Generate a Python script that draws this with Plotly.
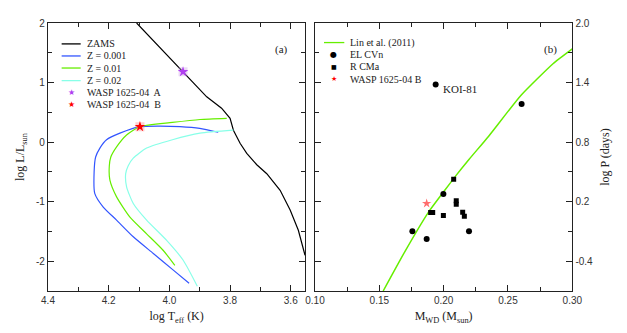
import plotly.graph_objects as go

# ── Panel (a): HR diagram ─────────────────────────────────────────────────────
zams_logt = [4.108, 4.05, 3.955, 3.877, 3.828, 3.80, 3.789, 3.767, 3.745, 3.712, 3.679, 3.635, 3.602, 3.575, 3.553]
zams_logl = [2.0, 1.69, 1.18, 0.76, 0.57, 0.40, 0.20, -0.02, -0.19, -0.38, -0.53, -0.81, -1.14, -1.48, -1.90]

z001_logt = [3.839, 3.90, 3.965, 4.03, 4.097, 4.163, 4.207, 4.229, 4.243, 4.248, 4.246, 4.218, 4.174, 4.119, 4.053, 3.987, 3.935]
z001_logl = [0.165, 0.23, 0.26, 0.27, 0.26, 0.15, 0.04, -0.10, -0.25, -0.50, -0.86, -1.09, -1.31, -1.59, -1.87, -2.15, -2.37]

z01_logt = [3.811, 3.899, 3.99, 4.097, 4.141, 4.174, 4.193, 4.198, 4.196, 4.174, 4.130, 4.075, 4.020, 3.982]
z01_logl = [0.40, 0.38, 0.33, 0.26, 0.12, -0.08, -0.25, -0.40, -0.64, -0.92, -1.26, -1.54, -1.82, -2.07]

z02_logt = [3.789, 3.899, 3.99, 4.075, 4.119, 4.136, 4.144, 4.141, 4.119, 4.075, 4.009, 3.955, 3.908]
z02_logl = [0.20, 0.15, 0.04, -0.10, -0.27, -0.40, -0.53, -0.75, -1.03, -1.31, -1.65, -1.98, -2.42]

star_a = (3.955, 1.18)
star_b = (4.097, 0.26)

# ── Panel (b): period vs WD mass ──────────────────────────────────────────────
lin_m = [0.153, 0.170, 0.188, 0.200, 0.210, 0.220, 0.235, 0.260, 0.285, 0.300]
lin_logp = [-0.70, -0.30, 0.09, 0.30, 0.47, 0.63, 0.86, 1.27, 1.59, 1.74]

elcvn_m = [0.1938, 0.2606, 0.1998, 0.1757, 0.1868, 0.2197]
elcvn_logp = [1.38, 1.185, 0.276, -0.098, -0.176, -0.098]

rcma_m = [0.2078, 0.2098, 0.2098, 0.1899, 0.1915, 0.1998, 0.2148, 0.2161]
rcma_logp = [0.427, 0.208, 0.175, 0.091, 0.091, 0.061, 0.094, 0.054]

wasp_b_m = [0.1868]
wasp_b_logp = [0.182]

lt_ticks = [4.4, 4.2, 4.0, 3.8, 3.6]
ll_ticks = [2, 1, 0, -1, -2]
m_ticks = [0.10, 0.15, 0.20, 0.25, 0.30]
p_ticks = [2.0, 1.4, 0.8, 0.2, -0.4]

SERIF = "Liberation Serif, Times New Roman, serif"
SANS = "Liberation Sans, Arial, sans-serif"
C_BLUE = "#3355ff"
C_GREEN = "#66ee00"
C_CYAN = "#88ffe8"
C_PURPLE = "#b040f0"

fig = go.Figure()

line_w = 1.2
smooth = dict(shape="spline", smoothing=0.6)
fig.add_trace(go.Scatter(x=zams_logt, y=zams_logl, mode="lines", line=dict(color="black", width=line_w), xaxis="x", yaxis="y"))
fig.add_trace(go.Scatter(x=z001_logt, y=z001_logl, mode="lines", line=dict(color=C_BLUE, width=line_w, **smooth), xaxis="x", yaxis="y"))
fig.add_trace(go.Scatter(x=z01_logt, y=z01_logl, mode="lines", line=dict(color=C_GREEN, width=line_w, **smooth), xaxis="x", yaxis="y"))
fig.add_trace(go.Scatter(x=z02_logt, y=z02_logl, mode="lines", line=dict(color=C_CYAN, width=line_w, **smooth), xaxis="x", yaxis="y"))

# halos + stars
fig.add_trace(go.Scatter(x=[star_a[0]], y=[star_a[1]], mode="markers",
                         marker=dict(symbol="square", size=9, color="rgba(200,150,230,0.35)", line=dict(width=0))))
fig.add_trace(go.Scatter(x=[star_b[0]], y=[star_b[1]], mode="markers",
                         marker=dict(symbol="square", size=9, color="rgba(255,120,120,0.35)", line=dict(width=0))))
fig.add_trace(go.Scatter(x=[star_a[0]], y=[star_a[1]], mode="markers",
                         marker=dict(symbol="star", size=8, color=C_PURPLE, line=dict(width=0))))
fig.add_trace(go.Scatter(x=[star_b[0]], y=[star_b[1]], mode="markers",
                         marker=dict(symbol="star", size=8, color="red", line=dict(width=0))))

# panel b
fig.add_trace(go.Scatter(x=lin_m, y=lin_logp, mode="lines", line=dict(color=C_GREEN, width=1.5, shape="spline", smoothing=0.5),
                         xaxis="x2", yaxis="y2"))
fig.add_trace(go.Scatter(x=elcvn_m, y=elcvn_logp, mode="markers", marker=dict(symbol="circle", size=6, color="black"),
                         xaxis="x2", yaxis="y2"))
fig.add_trace(go.Scatter(x=rcma_m, y=rcma_logp, mode="markers", marker=dict(symbol="square", size=5, color="black"),
                         xaxis="x2", yaxis="y2"))
fig.add_trace(go.Scatter(x=wasp_b_m, y=wasp_b_logp, mode="markers",
                         marker=dict(symbol="star", size=7, color="rgba(255,60,60,0.75)", line=dict(width=0)),
                         xaxis="x2", yaxis="y2"))

axis_common = dict(
    showline=True, linecolor="#222", linewidth=1.3, mirror="ticks",
    ticks="inside", ticklen=6, tickcolor="#222", tickwidth=1,
    showgrid=False, zeroline=False, automargin=False,
    tickfont=dict(family=SANS, size=10, color="#333"),
)

# the page body adds an 8px offset, so the layout is placed 8px up/left
fig.update_layout(
    width=627, height=333,
    margin=dict(l=0, r=0, t=15, b=50),
    plot_bgcolor="white", paper_bgcolor="white",
    showlegend=False,
    xaxis=dict(
        domain=[0.0638, 0.4742], range=[4.4, 3.552], anchor="y",
        tickvals=lt_ticks, ticktext=[f"{v:.1f}" for v in lt_ticks],
        minor=dict(dtick=0.1, tick0=4.4, ticks="inside", ticklen=4, tickcolor="#222"),
        title=dict(text="log T<sub>eff</sub> (K)", font=dict(family=SERIF, size=12, color="#222"), standoff=6),
        **axis_common,
    ),
    yaxis=dict(
        domain=[0, 1], range=[-2.5, 2], anchor="x",
        tickvals=ll_ticks, ticktext=[str(v) for v in ll_ticks],
        minor=dict(dtick=0.5, tick0=0, ticks="inside", ticklen=4, tickcolor="#222"),
        title=dict(text="log L/L<sub>sun</sub>", font=dict(family=SERIF, size=12, color="#222"), standoff=8),
        **axis_common,
    ),
    xaxis2=dict(
        domain=[0.4896, 0.900], range=[0.10, 0.30], anchor="y2",
        tickvals=m_ticks, ticktext=[f"{v:.2f}" for v in m_ticks],
        minor=dict(dtick=0.025, tick0=0.1, ticks="inside", ticklen=4, tickcolor="#222"),
        title=dict(text="M<sub>WD</sub> (M<sub>sun</sub>)", font=dict(family=SERIF, size=12, color="#222"), standoff=6),
        **axis_common,
    ),
    yaxis2=dict(
        domain=[0, 1], range=[-0.7, 2.0], anchor="x2", side="right",
        tickvals=p_ticks, ticktext=[f"{v:.1f}" if v >= 0 else f"-{abs(v):.1f}" for v in p_ticks],
        minor=dict(dtick=0.3, tick0=-0.4, ticks="inside", ticklen=4, tickcolor="#222"),
        title=dict(text="log P (days)", font=dict(family=SERIF, size=12, color="#222"), standoff=8),
        **axis_common,
    ),
)

# ── manual legends (compact row spacing like the original) ────────────────────
def legend_line(xref, yref, x0, x1, y, color):
    fig.add_shape(type="line", xref=xref, yref=yref, x0=x0, x1=x1, y0=y, y1=y,
                  line=dict(color=color, width=1.3))

def legend_text(xref, yref, x, y, text, color="#222", size=10, family=SERIF):
    fig.add_annotation(xref=xref, yref=yref, x=x, y=y, text=text, showarrow=False,
                       xanchor="left", yanchor="middle", font=dict(family=family, size=size, color=color))

def legend_sym(xref, yref, x, y, sym, color, size):
    fig.add_annotation(xref=xref, yref=yref, x=x, y=y, text=sym, showarrow=False,
                       xanchor="center", yanchor="middle", font=dict(family="DejaVu Sans", size=size, color=color))

left_rows = [0.922, 0.877, 0.832, 0.785, 0.741, 0.696]
left_labels = ["ZAMS", "Z = 0.001", "Z = 0.01", "Z = 0.02", "WASP 1625-04  A", "WASP 1625-04  B"]
left_colors = ["black", C_BLUE, C_GREEN, C_CYAN]
for i, lab in enumerate(left_labels):
    if i < 4:
        legend_line("x domain", "y domain", 0.053, 0.127, left_rows[i], left_colors[i])
    else:
        legend_sym("x domain", "y domain", 0.09, left_rows[i], "★", C_PURPLE if i == 4 else "red", 8)
    legend_text("x domain", "y domain", 0.145, left_rows[i], lab)

right_rows = [0.927, 0.884, 0.837, 0.790]
legend_line("x2 domain", "y2 domain", 0.035, 0.114, right_rows[0], C_GREEN)
legend_sym("x2 domain", "y2 domain", 0.072, right_rows[1], "●", "black", 8)
legend_sym("x2 domain", "y2 domain", 0.072, right_rows[2], "■", "black", 6)
legend_sym("x2 domain", "y2 domain", 0.072, right_rows[3], "★", "red", 7)
for lab, yy in zip(["Lin et al. (2011)", "EL CVn", "R CMa", "WASP 1625-04 B"], right_rows):
    legend_text("x2 domain", "y2 domain", 0.128, yy, lab)

fig.add_annotation(xref="x domain", yref="y domain", x=0.94, y=0.933, text="(a)", showarrow=False,
                   font=dict(family=SERIF, size=11, color="#222"))
fig.add_annotation(xref="x2 domain", yref="y2 domain", x=0.948, y=0.933, text="(b)", showarrow=False,
                   font=dict(family=SERIF, size=11, color="#222"))
fig.add_annotation(xref="x2", yref="y2", x=elcvn_m[0], y=elcvn_logp[0], text="KOI-81", showarrow=False,
                   xanchor="left", yanchor="middle", xshift=5, yshift=-4,
                   font=dict(family=SERIF, size=11, color="#222"))

fig.write_html("out.html")
